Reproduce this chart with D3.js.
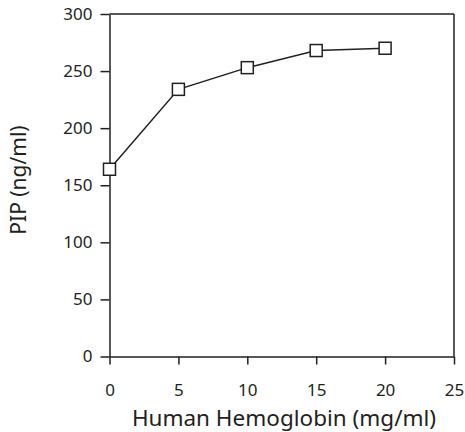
<!DOCTYPE html>
<html><head><meta charset="utf-8">
<script src="https://cdn.jsdelivr.net/npm/d3@7"></script>
<style>body{margin:0;background:#fff}svg{display:block}</style>
</head><body>
<script>
const hemoglobin = [0, 5, 10, 15, 20];
const pip = [164, 234, 253, 268, 270];
const xTicks = [0, 5, 10, 15, 20, 25];
const yTicks = [0, 50, 100, 150, 200, 250, 300];
const xTitle = "Human Hemoglobin (mg/ml)";
const yTitle = "PIP (ng/ml)";

const W = 465, H = 432;
const m = {left: 109.5, right: 11, top: 14, bottom: 75.5};
const ink = "#231f20";
const font = "'Noto Sans', sans-serif";

const svg = d3.select("body").append("svg").attr("width", W).attr("height", H);
const x = d3.scaleLinear().domain([0, 25]).range([m.left, W - m.right]);
const y = d3.scaleLinear().domain([0, 300]).range([H - m.bottom, m.top]);

// frame top & right
svg.append("line").attr("x1", x(0)).attr("x2", x(25)).attr("y1", y(300)).attr("y2", y(300))
  .attr("stroke", ink).attr("stroke-width", 1.5);
svg.append("line").attr("x1", x(25)).attr("x2", x(25)).attr("y1", y(300)).attr("y2", y(0))
  .attr("stroke", ink).attr("stroke-width", 1.5);

const gx = svg.append("g").attr("transform", `translate(0,${y(0)})`)
  .call(d3.axisBottom(x).tickValues(xTicks).tickSize(8).tickPadding(19.5).tickSizeOuter(0));
const gy = svg.append("g").attr("transform", `translate(${x(0)},0)`)
  .call(d3.axisLeft(y).tickValues(yTicks).tickSize(9).tickPadding(8).tickSizeOuter(0));
[gx, gy].forEach(g => {
  g.select(".domain").attr("stroke", ink).attr("stroke-width", 1.5);
  g.selectAll(".tick line").attr("stroke", ink).attr("stroke-width", 1.5);
  g.selectAll(".tick text").attr("fill", ink).style("font-family", font).style("font-size", "17px");
});

const line = d3.line().x((d, i) => x(hemoglobin[i])).y(d => y(d));
svg.append("path").datum(pip).attr("d", line).attr("fill", "none")
  .attr("stroke", ink).attr("stroke-width", 1.5);

const s = 12;
svg.selectAll("rect.pt").data(pip).enter().append("rect").attr("class", "pt")
  .attr("x", (d, i) => x(hemoglobin[i]) - s / 2).attr("y", d => y(d) - s / 2)
  .attr("width", s).attr("height", s)
  .attr("fill", "#fff").attr("stroke", ink).attr("stroke-width", 1.5);

svg.append("text").attr("x", 284).attr("y", 426).attr("text-anchor", "middle")
  .attr("fill", ink).style("font-family", font).style("font-size", "22.5px").text(xTitle);
svg.append("text").attr("transform", "translate(26,180) rotate(-90)").attr("text-anchor", "middle")
  .attr("fill", ink).style("font-family", font).style("font-size", "21px").text(yTitle);
</script>
</body></html>
